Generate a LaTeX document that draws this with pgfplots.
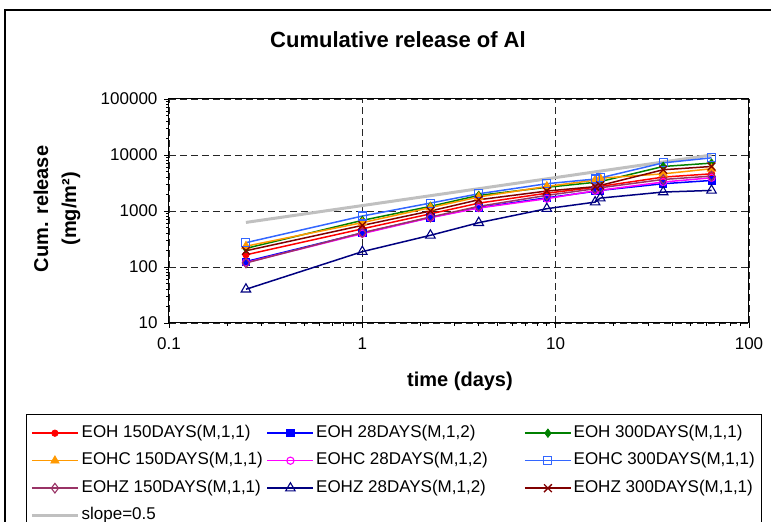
\documentclass[border=0pt]{standalone}
\usepackage{fontspec}
\setmainfont{Liberation Sans}
\usepackage{pgfplots}
\pgfplotsset{compat=1.18}
\usepackage{pgfplotstable}
\definecolor{cRed}{HTML}{FF0000}
\definecolor{cBlue}{HTML}{0000FF}
\definecolor{cGreen}{HTML}{008000}
\definecolor{cOrange}{HTML}{FF9900}
\definecolor{cMagenta}{HTML}{FF00FF}
\definecolor{cLBlue}{HTML}{3366FF}
\definecolor{cPlum}{HTML}{993366}
\definecolor{cNavy}{HTML}{000080}
\definecolor{cDRed}{HTML}{800000}
\definecolor{cGray}{HTML}{C0C0C0}

\pgfplotstableread{
t v
0.25 165
1 480
2.25 890
4 1380
9 2080
16 2650
17 2750
36 4030
64 4610
}\tEOHa
\pgfplotstableread{
t v
0.25 125
1 405
2.25 770
4 1150
9 1720
16 2250
17 2330
36 3070
64 3510
}\tEOHb
\pgfplotstableread{
t v
0.25 215
1 680
2.25 1210
4 1900
9 2650
16 3250
17 3350
36 6240
64 7160
}\tEOHc
\pgfplotstableread{
t v
0.25 235
1 620
2.25 1150
4 1780
9 2750
16 3550
17 3850
36 4610
64 5680
}\tEOHCa
\pgfplotstableread{
t v
0.25 120
1 395
2.25 760
4 1130
9 1660
16 2300
17 2350
36 3290
64 3920
}\tEOHCb
\pgfplotstableread{
t v
0.25 272
1 813
2.25 1385
4 2030
9 3070
16 3720
17 3900
36 7240
64 8900
}\tEOHCc
\pgfplotstableread{
t v
0.25 118
1 410
2.25 780
4 1210
9 1900
16 2500
17 2600
36 3660
64 4200
}\tEOHZa
\pgfplotstableread{
t v
0.25 40
1 188
2.25 368
4 618
9 1100
16 1440
17 1700
36 2180
64 2330
}\tEOHZb
\pgfplotstableread{
t v
0.25 195
1 553
2.25 1000
4 1590
9 2270
16 2720
17 2860
36 5450
64 6240
}\tEOHZc
\pgfplotstableread{
t v
0.25 625
1 1250
2.25 1875
4 2500
9 3750
16 5000
36 7500
64 10000
}\tSlope

\begin{document}
\begin{tikzpicture}[x=1pt,y=1pt]
\draw[line width=2pt,black] (5,512) rectangle (830,-60);
\node[font=\fontsize{22}{26}\selectfont\bfseries] at (398,482) {Cumulative release of Al};
\node[font=\fontsize{20}{28}\selectfont\bfseries, rotate=90, align=center] at (57,313) {Cum. release\\(mg/m²)};
\node[font=\fontsize{20}{24}\selectfont\bfseries] at (460,141) {time (days)};
\begin{axis}[
  at={(169pt,199pt)}, anchor=south west,
  scale only axis, width=580pt, height=224pt,
  xmode=log, ymode=log,
  xmin=0.1, xmax=100, ymin=10, ymax=100000,
  xtick={0.1,1,10,100}, xticklabels={0.1,1,10,100},
  ytick={10,100,1000,10000,100000}, yticklabels={10,100,1000,10000,100000},
  minor xtick={}, minor ytick={},
  tick pos=left,
  tick align=outside, major tick length=5pt,
  grid=major, major grid style={black!85, dash pattern=on 7pt off 4pt, line width=0.8pt},
  axis line style={black, line width=1pt},
  tick style={black, line width=0.8pt},
  ticklabel style={font=\fontsize{17}{20}\selectfont},
  xticklabel style={yshift=-6pt},
  yticklabel style={xshift=-3pt},
  /pgf/number format/assume math mode=true,
  legend columns=3,
  legend cell align=left,
  legend style={at={(-0.2466,-0.4062)}, anchor=north west, draw=black,
    font=\fontsize{17}{20}\selectfont, inner xsep=4pt, inner ysep=9pt, row sep=7.5pt,
    nodes={text height=12pt, text depth=4pt}},
  legend image code/.code={
    \draw[line width=1.5pt,#1,mark repeat=2,mark phase=2] plot coordinates {(0pt,0pt) (23pt,0pt) (46pt,0pt)};
  },
]
\addplot[cGray, line width=3pt, no marks, forget plot] table[x=t,y=v] {\tSlope};
\addplot[color=cRed, line width=1.5pt, mark=*, mark size=3.2pt, mark options={fill=cRed, line width=0.8pt}] table[x=t,y=v] {\tEOHa};
\addlegendentry{\makebox[183pt][l]{EOH 150DAYS(M,1,1)}}
\addplot[color=cBlue, line width=1.5pt, mark=square*, mark size=3.6pt, mark options={fill=cBlue, line width=0.8pt}] table[x=t,y=v] {\tEOHb};
\addlegendentry{\makebox[206pt][l]{EOH 28DAYS(M,1,2)}}
\addplot[color=cGreen, line width=1.5pt, mark=diamond*, mark size=4.2pt, mark options={fill=cGreen, line width=0.8pt}] table[x=t,y=v] {\tEOHc};
\addlegendentry{EOH 300DAYS(M,1,1)}
\addplot[color=cOrange, line width=1.5pt, mark=triangle*, mark size=4.8pt, mark options={fill=cOrange, line width=0.8pt}] table[x=t,y=v] {\tEOHCa};
\addlegendentry{\makebox[183pt][l]{EOHC 150DAYS(M,1,1)}}
\addplot[color=cMagenta, line width=1.5pt, mark=o, mark size=3.6pt, mark options={fill=white, line width=1.1pt}] table[x=t,y=v] {\tEOHCb};
\addlegendentry{\makebox[206pt][l]{EOHC 28DAYS(M,1,2)}}
\addplot[color=cLBlue, line width=1.5pt, mark=square, mark size=4pt, mark options={fill=white, line width=1.1pt}] table[x=t,y=v] {\tEOHCc};
\addlegendentry{EOHC 300DAYS(M,1,1)}
\addplot[color=cPlum, line width=1.5pt, mark=diamond, mark size=4.8pt, mark options={fill=white, line width=1.1pt}] table[x=t,y=v] {\tEOHZa};
\addlegendentry{\makebox[183pt][l]{EOHZ 150DAYS(M,1,1)}}
\addplot[color=cNavy, line width=1.5pt, mark=triangle, mark size=5.5pt, mark options={fill=white, line width=1.1pt}] table[x=t,y=v] {\tEOHZb};
\addlegendentry{\makebox[206pt][l]{EOHZ 28DAYS(M,1,2)}}
\addplot[color=cDRed, line width=1.5pt, mark=x, mark size=5.5pt, mark options={line width=1.3pt}] table[x=t,y=v] {\tEOHZc};
\addlegendentry{EOHZ 300DAYS(M,1,1)}
\addlegendimage{legend image code/.code={\draw[cGray, line width=3.5pt] (0pt,0pt) -- (46pt,0pt);}}
\addlegendentry{slope=0.5}
\end{axis}
\pgfresetboundingbox
\path[use as bounding box] (0,0) rectangle (771,522);
\end{tikzpicture}
\end{document}
